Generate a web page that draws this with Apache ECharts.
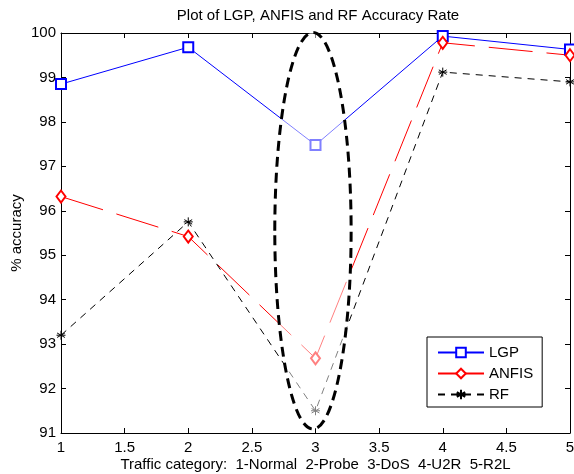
<!DOCTYPE html>
<html>
<head>
<meta charset="utf-8">
<script src="https://cdn.jsdelivr.net/npm/echarts@6/dist/echarts.min.js"></script>
<style>
html, body { margin: 0; padding: 0; background: #fff; }
#main { width: 574px; height: 474px; }
</style>
</head>
<body>
<div id="main"></div>
<script>
// traffic category 1..5
var categories = [1, 2, 3, 4, 5];
var lgp = [98.85, 99.68, 97.48, 99.93, 99.63];
var anfis = [96.32, 95.42, 92.68, 99.78, 99.5];
var rf = [93.2, 95.75, 91.5, 99.12, 98.9];
// highlight ellipse round category 3: centre x, centre y, half width, half height (data units)
var ellipse = [2.98, 95.55, 0.3, 4.46];

function pairs(vals) {
    var out = [];
    for (var i = 0, len = categories.length; i < len; i++) {
        out.push([categories[i], vals[i]]);
    }
    return out;
}

var font = 'Liberation Sans, Arial, sans-serif';
var star = 'path://M0,-10L0,10M-8.66,-5L8.66,5M-8.66,5L8.66,-5M-10,0L10,0';

var option = {
    animation: false,
    backgroundColor: '#fff',
    title: {
        text: 'Plot of LGP, ANFIS and RF Accuracy Rate',
        left: 313,
        textAlign: 'center',
        top: 3,
        textStyle: { fontFamily: font, fontSize: 15, fontWeight: 'normal', color: '#000' }
    },
    grid: { left: 61, right: 4, top: 33, bottom: 41, containLabel: false, outerBoundsMode: 'none' },
    legend: {
        orient: 'vertical',
        left: 427,
        top: 337,
        padding: [8, 9, 5, 10],
        itemWidth: 46,
        itemHeight: 12,
        itemGap: 6,
        backgroundColor: '#fff',
        borderColor: '#000',
        borderWidth: 1,
        borderRadius: 0,
        textStyle: { fontFamily: font, fontSize: 15, lineHeight: 14, color: '#000' },
        data: [
            { name: 'LGP' },
            { name: 'ANFIS', lineStyle: { type: 'solid' } },
            { name: 'RF' }
        ]
    },
    xAxis: [{
        type: 'value',
        min: 1, max: 5, interval: 0.5,
        name: 'Traffic category:  1-Normal  2-Probe  3-DoS  4-U2R  5-R2L',
        nameLocation: 'middle',
        nameGap: 24,
        nameMoveOverlap: false,
        nameTextStyle: { fontFamily: font, fontSize: 15, color: '#000' },
        axisLine: { onZero: false, lineStyle: { color: '#000', width: 1 } },
        axisTick: { inside: true, length: 5, lineStyle: { color: '#000' } },
        axisLabel: { fontFamily: font, fontSize: 15, color: '#000', margin: 7, showMaxLabel: true },
        splitLine: { show: false }
    }, {
        type: 'value',
        position: 'top',
        min: 1, max: 5, interval: 0.5,
        axisLine: { onZero: false, lineStyle: { color: '#000', width: 1 } },
        axisTick: { inside: true, length: 5, lineStyle: { color: '#000' } },
        axisLabel: { show: false },
        splitLine: { show: false }
    }],
    yAxis: [{
        type: 'value',
        min: 91, max: 100, interval: 1,
        name: '% accuracy',
        nameLocation: 'middle',
        nameGap: 37,
        nameMoveOverlap: false,
        nameTextStyle: { fontFamily: font, fontSize: 15, color: '#000' },
        axisLine: { show: true, onZero: false, lineStyle: { color: '#000', width: 1 } },
        axisTick: { show: true, inside: true, length: 5, lineStyle: { color: '#000' } },
        axisLabel: { fontFamily: font, fontSize: 15, color: '#000', margin: 5 },
        splitLine: { show: false }
    }, {
        type: 'value',
        position: 'right',
        min: 91, max: 100, interval: 1,
        axisLine: { show: true, onZero: false, lineStyle: { color: '#000', width: 1 } },
        axisTick: { show: true, inside: true, length: 5, lineStyle: { color: '#000' } },
        axisLabel: { show: false },
        splitLine: { show: false }
    }],
    series: [{
        name: 'LGP',
        type: 'line',
        data: pairs(lgp),
        symbol: 'emptyRect',
        symbolSize: 10,
        color: '#0000ff',
        lineStyle: { color: '#0000ff', width: 1 },
        itemStyle: { color: '#0000ff', borderWidth: 1 }
    }, {
        name: 'ANFIS',
        type: 'line',
        data: pairs(anfis),
        symbol: 'emptyDiamond',
        symbolSize: [9, 12],
        color: '#ff0000',
        lineStyle: { color: '#ff0000', width: 1, type: [44, 14] },
        itemStyle: { color: '#ff0000', borderWidth: 1 }
    }, {
        name: 'RF',
        type: 'line',
        data: pairs(rf),
        symbol: star,
        symbolSize: 9,
        color: '#000',
        lineStyle: { color: '#000', width: 1, type: [7, 6] },
        itemStyle: { color: '#000', borderColor: '#000', borderWidth: 1 }
    }, {
        name: 'highlight',
        type: 'custom',
        silent: true,
        z: 5,
        data: [ellipse],
        renderItem: function(params, api) {
            var c = api.coord([api.value(0), api.value(1)]);
            var s = api.size([api.value(2), api.value(3)]);
            return {
                type: 'ellipse',
                shape: { cx: c[0], cy: c[1], rx: s[0], ry: s[1] },
                style: {
                    fill: 'rgba(255,255,255,0.5)',
                    stroke: '#000',
                    lineWidth: 3,
                    lineDash: [10, 6]
                }
            };
        }
    }]
};

var chart = echarts.init(document.getElementById('main'));
chart.setOption(option);
</script>
</body>
</html>
